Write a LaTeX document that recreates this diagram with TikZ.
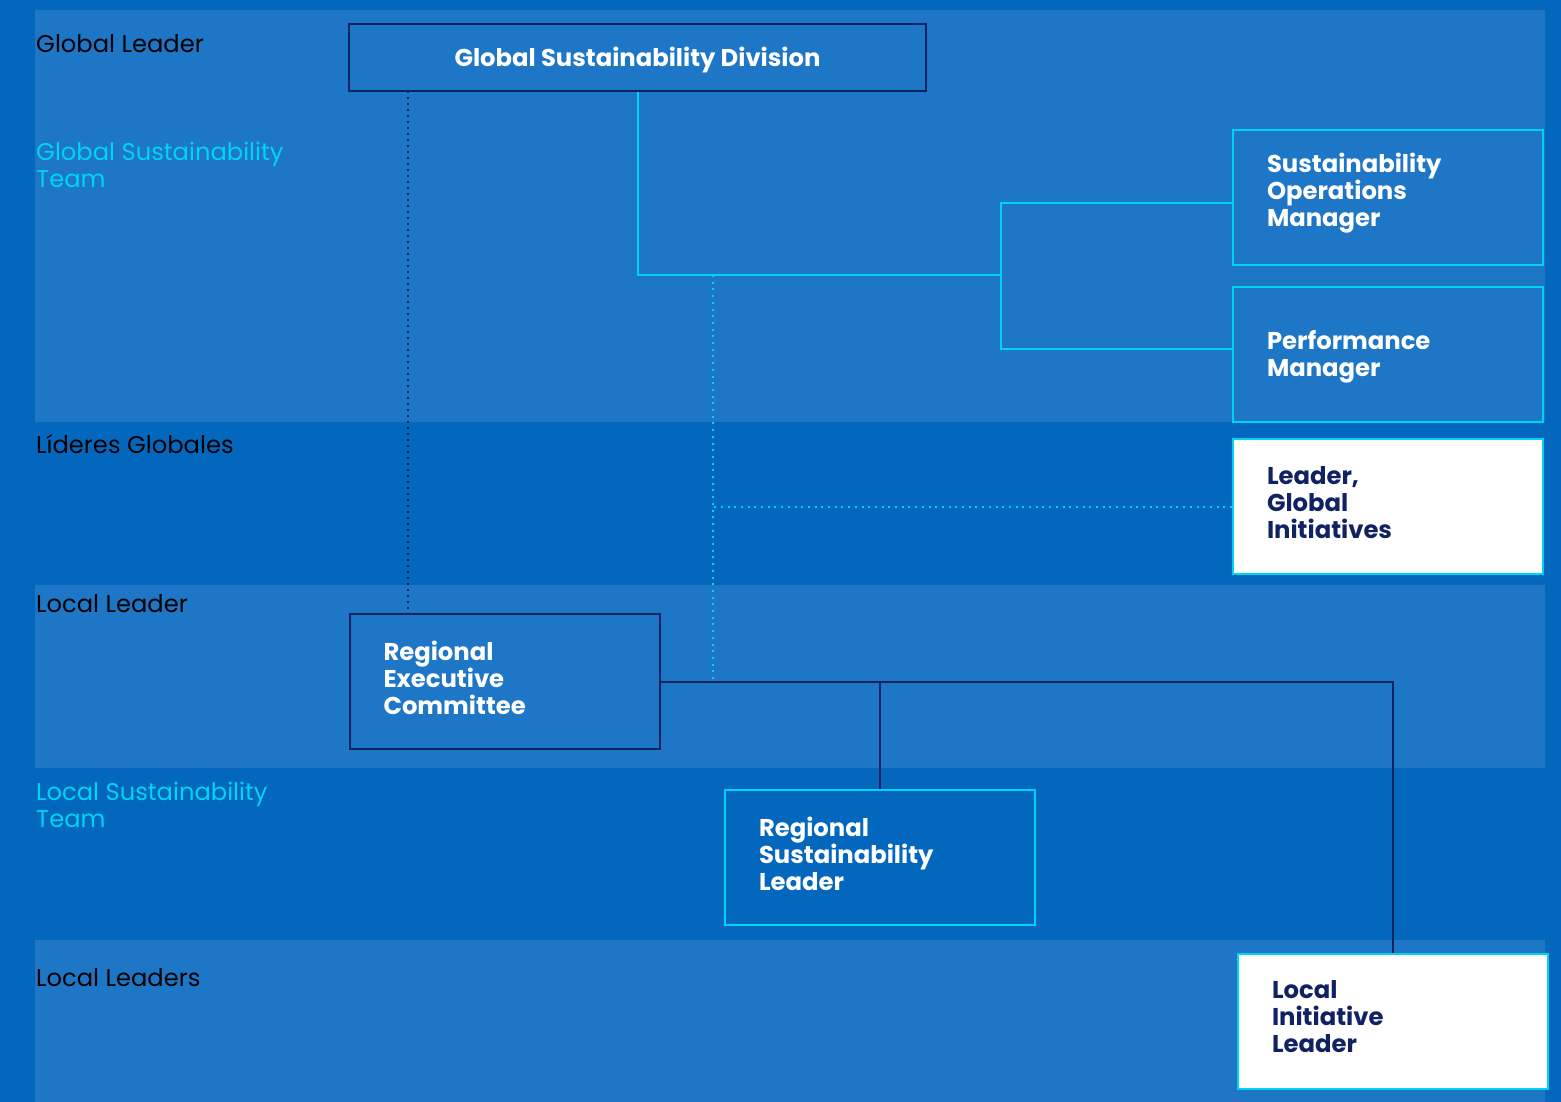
\documentclass[tikz,border=0pt]{standalone}
\usepackage{fontspec}
\setmainfont{Poppins}
\usepackage{tikz}
\usetikzlibrary{positioning}
\definecolor{bgdark}{RGB}{4,103,190}
\definecolor{bglight}{RGB}{30,118,198}
\definecolor{orgcyan}{RGB}{0,212,240}
\definecolor{orgnavy}{RGB}{16,34,98}
\tikzset{
  rowlabel/.style={anchor=west, inner sep=0pt, align=left, text=black,
    font=\fontsize{24.2}{27}\selectfont},
  teamlabel/.style={rowlabel, text=orgcyan},
  basebox/.style={
    draw,
    line width=2pt,
    inner ysep=0pt,
    text=white,
    font=\bfseries\fontsize{24.3}{27}\selectfont
  },
  rolebox/.style={basebox, text width=242pt, inner xsep=34pt,
    minimum height=135pt, align=left,
    execute at end node={\par\vspace{8pt}}},
  navybox/.style={rolebox, draw=orgnavy},
  cyanbox/.style={rolebox, draw=orgcyan},
  whitebox/.style={rolebox, draw=orgcyan, fill=white, text=orgnavy},
  cyanline/.style={draw=orgcyan, line width=2pt},
  navyline/.style={draw=orgnavy, line width=2pt},
  cyandots/.style={draw=orgcyan, line width=2pt, dash pattern=on 2pt off 4.7pt},
  navydots/.style={draw=orgnavy, line width=2pt, dash pattern=on 2pt off 4pt}
}
\begin{document}
\begin{tikzpicture}[x=1pt,y=-1pt]
% background and bands
\fill[bgdark] (0,0) rectangle (1561,1102);
\useasboundingbox (0,0) rectangle (1561,1102);
\fill[bglight] (35,10) rectangle (1545,422);
\fill[bglight] (35,585) rectangle (1545,768);
\fill[bglight] (35,940) rectangle (1545,1102);

% row labels
\node[rowlabel] (lblgl) at (36,44) {Global Leader};
\node[teamlabel] (lblgst) at (36,165) {Global Sustainability\\Team};
\node[rowlabel] (lbllg) at (36,444) {Líderes Globales};
\node[rowlabel] (lblll) at (36,604) {Local Leader};
\node[teamlabel] (lbllst) at (36,805) {Local Sustainability\\Team};
\node[rowlabel] (lbllls) at (36,978) {Local Leaders};

% boxes
\node[basebox, draw=orgnavy, minimum width=577pt, minimum height=67pt,
  text height=22pt, text depth=4pt] (gsd) at (637.5,57.5) {Global Sustainability Division};
\node[cyanbox] (som) at (1388,197.5) {Sustainability\\Operations\\Manager};
\node[cyanbox, execute at end node={\vspace{-12pt}}] (pm) at (1388,354.5) {Performance\\Manager};
\node[whitebox] (lgi) at (1388,506.5) {Leader,\\Global\\Initiatives};
\node[navybox] (rec) at (504.5,681.5) {Regional\\Executive\\Committee};
\node[cyanbox] (rsl) at (880,857.5) {Regional\\Sustainability\\Leader};
\node[whitebox] (lil) at (1393,1021) {Local\\Initiative\\Leader};

% connectors
\coordinate (split) at (1001,275);
\coordinate (tapA) at (408,91);
\coordinate (tapB) at (713,275);
\coordinate (tapC) at (713,683);
\draw[cyanline] (gsd.south) |- (split);
\draw[cyanline] ([yshift=-5.5pt]som.west) -| (split) |- ([yshift=5.5pt]pm.west);
\draw[navydots] (tapA) -- (rec.north -| tapA);
\draw[cyandots] (tapB) -- (tapC);
\draw[cyandots] (lgi.west) -- (lgi.west -| tapB);
\draw[navyline] (rec.east) -| (lil.north);
\draw[navyline] (rsl.north) -- (rsl.north |- rec.east);
\end{tikzpicture}
\end{document}
